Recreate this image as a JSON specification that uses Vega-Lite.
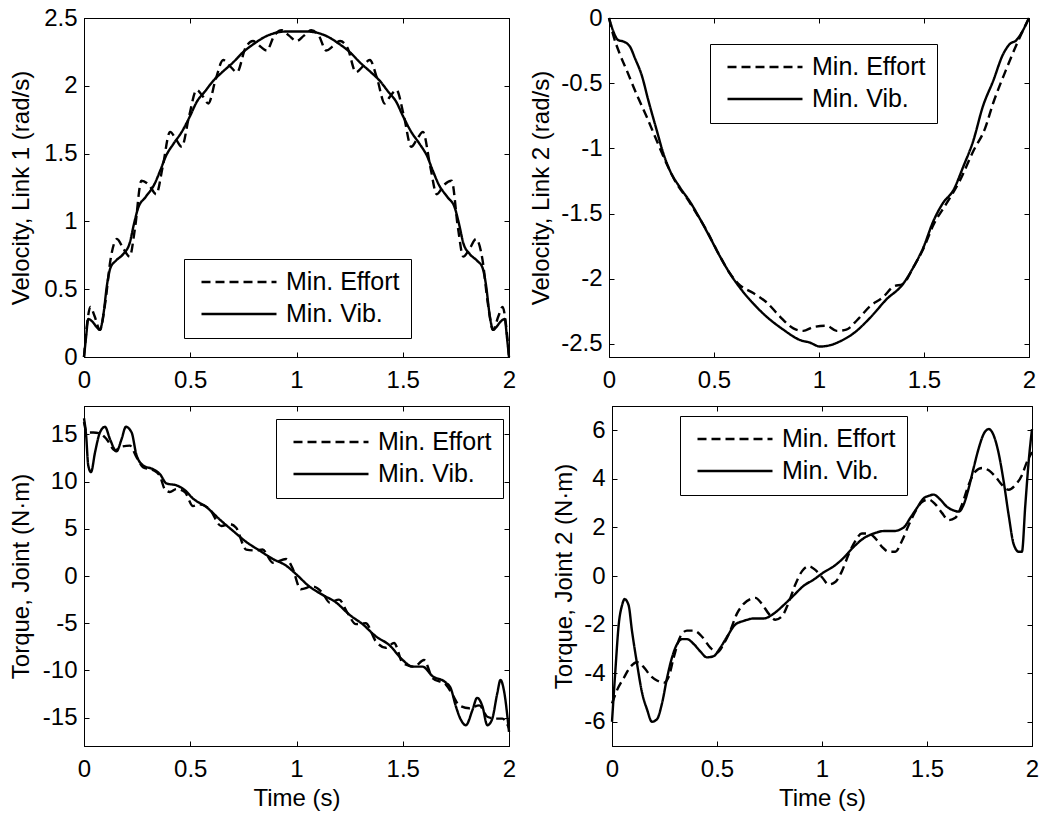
{
  "$schema": "https://vega.github.io/schema/vega-lite/v6.json",
  "padding": {"left": 8, "top": 5, "right": 5, "bottom": 5},
  "background": "white",
  "config": {
    "font": "Liberation Sans",
    "view": {"stroke": "black", "strokeWidth": 1},
    "axis": {
      "labelFont": "Liberation Sans", "labelFontSize": 24, "labelColor": "black", "labelFlush": false,
      "titleFont": "Liberation Sans", "titleFontSize": 24, "titleFontWeight": "normal", "titleColor": "black",
      "domainColor": "black", "domainWidth": 1, "tickColor": "black", "tickWidth": 1, "tickSize": -5, "grid": false
    },
    "axisX": {"labelPadding": 16, "minExtent": 35, "maxExtent": 35, "titlePadding": 5},
    "axisY": {"labelPadding": 12, "titlePadding": 7},
    "legend": {
      "labelFont": "Liberation Sans", "labelFontSize": 25, "labelColor": "black",
      "strokeColor": "black", "fillColor": "white", "padding": 11,
      "symbolType": "stroke", "symbolSize": 5625, "symbolStrokeWidth": 2.4, "symbolStrokeColor": "black",
      "symbolOffset": 5, "labelOffset": 8, "rowPadding": 7, "clipHeight": 24
    },
    "line": {"color": "black", "strokeWidth": 2.4, "interpolate": "monotone"}
  },
  "datasets": {
    "p1": [
      {"t":0,"v":0,"s":"Min. Effort"},{"t":0.015,"v":0.25,"s":"Min. Effort"},{"t":0.03,"v":0.37,"s":"Min. Effort"},{"t":0.05,"v":0.30,"s":"Min. Effort"},{"t":0.075,"v":0.20,"s":"Min. Effort"},{"t":0.1,"v":0.40,"s":"Min. Effort"},{"t":0.125,"v":0.72,"s":"Min. Effort"},{"t":0.155,"v":0.87,"s":"Min. Effort"},{"t":0.185,"v":0.80,"s":"Min. Effort"},{"t":0.215,"v":0.74,"s":"Min. Effort"},{"t":0.24,"v":0.95,"s":"Min. Effort"},{"t":0.27,"v":1.30,"s":"Min. Effort"},{"t":0.305,"v":1.27,"s":"Min. Effort"},{"t":0.34,"v":1.20,"s":"Min. Effort"},{"t":0.37,"v":1.40,"s":"Min. Effort"},{"t":0.405,"v":1.66,"s":"Min. Effort"},{"t":0.435,"v":1.60,"s":"Min. Effort"},{"t":0.46,"v":1.55,"s":"Min. Effort"},{"t":0.495,"v":1.78,"s":"Min. Effort"},{"t":0.53,"v":1.97,"s":"Min. Effort"},{"t":0.56,"v":1.92,"s":"Min. Effort"},{"t":0.585,"v":1.87,"s":"Min. Effort"},{"t":0.62,"v":2.05,"s":"Min. Effort"},{"t":0.655,"v":2.19,"s":"Min. Effort"},{"t":0.69,"v":2.14,"s":"Min. Effort"},{"t":0.72,"v":2.10,"s":"Min. Effort"},{"t":0.76,"v":2.28,"s":"Min. Effort"},{"t":0.795,"v":2.33,"s":"Min. Effort"},{"t":0.83,"v":2.29,"s":"Min. Effort"},{"t":0.86,"v":2.26,"s":"Min. Effort"},{"t":0.895,"v":2.37,"s":"Min. Effort"},{"t":0.93,"v":2.41,"s":"Min. Effort"},{"t":0.965,"v":2.37,"s":"Min. Effort"},{"t":1.0,"v":2.33,"s":"Min. Effort"},{"t":1.035,"v":2.37,"s":"Min. Effort"},{"t":1.07,"v":2.41,"s":"Min. Effort"},{"t":1.105,"v":2.37,"s":"Min. Effort"},{"t":1.14,"v":2.26,"s":"Min. Effort"},{"t":1.17,"v":2.29,"s":"Min. Effort"},{"t":1.205,"v":2.33,"s":"Min. Effort"},{"t":1.24,"v":2.28,"s":"Min. Effort"},{"t":1.28,"v":2.10,"s":"Min. Effort"},{"t":1.31,"v":2.14,"s":"Min. Effort"},{"t":1.345,"v":2.19,"s":"Min. Effort"},{"t":1.38,"v":2.05,"s":"Min. Effort"},{"t":1.415,"v":1.87,"s":"Min. Effort"},{"t":1.44,"v":1.92,"s":"Min. Effort"},{"t":1.47,"v":1.97,"s":"Min. Effort"},{"t":1.505,"v":1.78,"s":"Min. Effort"},{"t":1.54,"v":1.55,"s":"Min. Effort"},{"t":1.565,"v":1.60,"s":"Min. Effort"},{"t":1.595,"v":1.66,"s":"Min. Effort"},{"t":1.63,"v":1.40,"s":"Min. Effort"},{"t":1.66,"v":1.20,"s":"Min. Effort"},{"t":1.695,"v":1.27,"s":"Min. Effort"},{"t":1.73,"v":1.30,"s":"Min. Effort"},{"t":1.76,"v":0.95,"s":"Min. Effort"},{"t":1.785,"v":0.74,"s":"Min. Effort"},{"t":1.815,"v":0.80,"s":"Min. Effort"},{"t":1.845,"v":0.87,"s":"Min. Effort"},{"t":1.875,"v":0.72,"s":"Min. Effort"},{"t":1.9,"v":0.40,"s":"Min. Effort"},{"t":1.925,"v":0.20,"s":"Min. Effort"},{"t":1.95,"v":0.30,"s":"Min. Effort"},{"t":1.97,"v":0.37,"s":"Min. Effort"},{"t":1.985,"v":0.25,"s":"Min. Effort"},{"t":2.0,"v":0,"s":"Min. Effort"},
      {"t":0,"v":0,"s":"Min. Vib."},{"t":0.01,"v":0.15,"s":"Min. Vib."},{"t":0.02,"v":0.28,"s":"Min. Vib."},{"t":0.04,"v":0.26,"s":"Min. Vib."},{"t":0.06,"v":0.22,"s":"Min. Vib."},{"t":0.075,"v":0.20,"s":"Min. Vib."},{"t":0.09,"v":0.30,"s":"Min. Vib."},{"t":0.11,"v":0.55,"s":"Min. Vib."},{"t":0.125,"v":0.66,"s":"Min. Vib."},{"t":0.15,"v":0.71,"s":"Min. Vib."},{"t":0.185,"v":0.76,"s":"Min. Vib."},{"t":0.215,"v":0.84,"s":"Min. Vib."},{"t":0.235,"v":0.98,"s":"Min. Vib."},{"t":0.255,"v":1.10,"s":"Min. Vib."},{"t":0.29,"v":1.18,"s":"Min. Vib."},{"t":0.33,"v":1.27,"s":"Min. Vib."},{"t":0.36,"v":1.38,"s":"Min. Vib."},{"t":0.385,"v":1.48,"s":"Min. Vib."},{"t":0.42,"v":1.57,"s":"Min. Vib."},{"t":0.46,"v":1.66,"s":"Min. Vib."},{"t":0.5,"v":1.78,"s":"Min. Vib."},{"t":0.53,"v":1.88,"s":"Min. Vib."},{"t":0.57,"v":1.96,"s":"Min. Vib."},{"t":0.61,"v":2.04,"s":"Min. Vib."},{"t":0.65,"v":2.10,"s":"Min. Vib."},{"t":0.7,"v":2.17,"s":"Min. Vib."},{"t":0.75,"v":2.25,"s":"Min. Vib."},{"t":0.8,"v":2.31,"s":"Min. Vib."},{"t":0.85,"v":2.36,"s":"Min. Vib."},{"t":0.9,"v":2.39,"s":"Min. Vib."},{"t":0.95,"v":2.40,"s":"Min. Vib."},{"t":1.0,"v":2.40,"s":"Min. Vib."},{"t":1.05,"v":2.40,"s":"Min. Vib."},{"t":1.1,"v":2.39,"s":"Min. Vib."},{"t":1.15,"v":2.36,"s":"Min. Vib."},{"t":1.2,"v":2.31,"s":"Min. Vib."},{"t":1.25,"v":2.25,"s":"Min. Vib."},{"t":1.3,"v":2.17,"s":"Min. Vib."},{"t":1.35,"v":2.10,"s":"Min. Vib."},{"t":1.39,"v":2.04,"s":"Min. Vib."},{"t":1.43,"v":1.96,"s":"Min. Vib."},{"t":1.47,"v":1.88,"s":"Min. Vib."},{"t":1.5,"v":1.78,"s":"Min. Vib."},{"t":1.54,"v":1.66,"s":"Min. Vib."},{"t":1.58,"v":1.57,"s":"Min. Vib."},{"t":1.615,"v":1.48,"s":"Min. Vib."},{"t":1.64,"v":1.38,"s":"Min. Vib."},{"t":1.67,"v":1.27,"s":"Min. Vib."},{"t":1.71,"v":1.18,"s":"Min. Vib."},{"t":1.745,"v":1.10,"s":"Min. Vib."},{"t":1.765,"v":0.98,"s":"Min. Vib."},{"t":1.785,"v":0.84,"s":"Min. Vib."},{"t":1.815,"v":0.76,"s":"Min. Vib."},{"t":1.85,"v":0.71,"s":"Min. Vib."},{"t":1.875,"v":0.66,"s":"Min. Vib."},{"t":1.89,"v":0.55,"s":"Min. Vib."},{"t":1.91,"v":0.30,"s":"Min. Vib."},{"t":1.925,"v":0.20,"s":"Min. Vib."},{"t":1.94,"v":0.22,"s":"Min. Vib."},{"t":1.96,"v":0.26,"s":"Min. Vib."},{"t":1.98,"v":0.28,"s":"Min. Vib."},{"t":1.99,"v":0.15,"s":"Min. Vib."},{"t":2.0,"v":0,"s":"Min. Vib."}
    ],
    "p2": [
      {"t":0,"v":0,"s":"Min. Effort"},{"t":0.02,"v":-0.13,"s":"Min. Effort"},{"t":0.05,"v":-0.27,"s":"Min. Effort"},{"t":0.084,"v":-0.40,"s":"Min. Effort"},{"t":0.13,"v":-0.58,"s":"Min. Effort"},{"t":0.18,"v":-0.76,"s":"Min. Effort"},{"t":0.227,"v":-0.94,"s":"Min. Effort"},{"t":0.275,"v":-1.12,"s":"Min. Effort"},{"t":0.322,"v":-1.27,"s":"Min. Effort"},{"t":0.37,"v":-1.38,"s":"Min. Effort"},{"t":0.417,"v":-1.50,"s":"Min. Effort"},{"t":0.465,"v":-1.63,"s":"Min. Effort"},{"t":0.529,"v":-1.83,"s":"Min. Effort"},{"t":0.576,"v":-1.96,"s":"Min. Effort"},{"t":0.624,"v":-2.05,"s":"Min. Effort"},{"t":0.687,"v":-2.11,"s":"Min. Effort"},{"t":0.75,"v":-2.18,"s":"Min. Effort"},{"t":0.814,"v":-2.29,"s":"Min. Effort"},{"t":0.878,"v":-2.38,"s":"Min. Effort"},{"t":0.925,"v":-2.40,"s":"Min. Effort"},{"t":0.973,"v":-2.37,"s":"Min. Effort"},{"t":1.036,"v":-2.36,"s":"Min. Effort"},{"t":1.084,"v":-2.40,"s":"Min. Effort"},{"t":1.13,"v":-2.39,"s":"Min. Effort"},{"t":1.18,"v":-2.32,"s":"Min. Effort"},{"t":1.243,"v":-2.21,"s":"Min. Effort"},{"t":1.306,"v":-2.14,"s":"Min. Effort"},{"t":1.354,"v":-2.06,"s":"Min. Effort"},{"t":1.4,"v":-2.04,"s":"Min. Effort"},{"t":1.45,"v":-1.91,"s":"Min. Effort"},{"t":1.497,"v":-1.77,"s":"Min. Effort"},{"t":1.544,"v":-1.59,"s":"Min. Effort"},{"t":1.608,"v":-1.42,"s":"Min. Effort"},{"t":1.67,"v":-1.25,"s":"Min. Effort"},{"t":1.735,"v":-1.02,"s":"Min. Effort"},{"t":1.79,"v":-0.85,"s":"Min. Effort"},{"t":1.83,"v":-0.65,"s":"Min. Effort"},{"t":1.89,"v":-0.40,"s":"Min. Effort"},{"t":1.95,"v":-0.17,"s":"Min. Effort"},{"t":2.0,"v":0,"s":"Min. Effort"},
      {"t":0,"v":0,"s":"Min. Vib."},{"t":0.02,"v":-0.10,"s":"Min. Vib."},{"t":0.044,"v":-0.17,"s":"Min. Vib."},{"t":0.068,"v":-0.18,"s":"Min. Vib."},{"t":0.1,"v":-0.22,"s":"Min. Vib."},{"t":0.124,"v":-0.31,"s":"Min. Vib."},{"t":0.156,"v":-0.44,"s":"Min. Vib."},{"t":0.187,"v":-0.63,"s":"Min. Vib."},{"t":0.227,"v":-0.86,"s":"Min. Vib."},{"t":0.259,"v":-1.04,"s":"Min. Vib."},{"t":0.29,"v":-1.17,"s":"Min. Vib."},{"t":0.338,"v":-1.30,"s":"Min. Vib."},{"t":0.386,"v":-1.41,"s":"Min. Vib."},{"t":0.433,"v":-1.54,"s":"Min. Vib."},{"t":0.48,"v":-1.68,"s":"Min. Vib."},{"t":0.529,"v":-1.83,"s":"Min. Vib."},{"t":0.576,"v":-1.96,"s":"Min. Vib."},{"t":0.624,"v":-2.07,"s":"Min. Vib."},{"t":0.687,"v":-2.19,"s":"Min. Vib."},{"t":0.75,"v":-2.29,"s":"Min. Vib."},{"t":0.83,"v":-2.39,"s":"Min. Vib."},{"t":0.91,"v":-2.47,"s":"Min. Vib."},{"t":0.957,"v":-2.49,"s":"Min. Vib."},{"t":1.005,"v":-2.52,"s":"Min. Vib."},{"t":1.052,"v":-2.51,"s":"Min. Vib."},{"t":1.1,"v":-2.48,"s":"Min. Vib."},{"t":1.163,"v":-2.42,"s":"Min. Vib."},{"t":1.243,"v":-2.30,"s":"Min. Vib."},{"t":1.32,"v":-2.16,"s":"Min. Vib."},{"t":1.4,"v":-2.04,"s":"Min. Vib."},{"t":1.45,"v":-1.91,"s":"Min. Vib."},{"t":1.497,"v":-1.76,"s":"Min. Vib."},{"t":1.544,"v":-1.56,"s":"Min. Vib."},{"t":1.59,"v":-1.42,"s":"Min. Vib."},{"t":1.64,"v":-1.32,"s":"Min. Vib."},{"t":1.687,"v":-1.14,"s":"Min. Vib."},{"t":1.735,"v":-0.94,"s":"Min. Vib."},{"t":1.78,"v":-0.68,"s":"Min. Vib."},{"t":1.83,"v":-0.48,"s":"Min. Vib."},{"t":1.876,"v":-0.28,"s":"Min. Vib."},{"t":1.908,"v":-0.20,"s":"Min. Vib."},{"t":1.94,"v":-0.17,"s":"Min. Vib."},{"t":1.962,"v":-0.12,"s":"Min. Vib."},{"t":2.0,"v":0,"s":"Min. Vib."}
    ],
    "p3": [
      {"t":0,"v":16.3,"s":"Min. Effort"},{"t":0.013,"v":15.2,"s":"Min. Effort"},{"t":0.044,"v":15.2,"s":"Min. Effort"},{"t":0.075,"v":15.1,"s":"Min. Effort"},{"t":0.106,"v":14.5,"s":"Min. Effort"},{"t":0.146,"v":13.3,"s":"Min. Effort"},{"t":0.177,"v":13.7,"s":"Min. Effort"},{"t":0.216,"v":13.8,"s":"Min. Effort"},{"t":0.247,"v":12.6,"s":"Min. Effort"},{"t":0.279,"v":11.5,"s":"Min. Effort"},{"t":0.326,"v":11.2,"s":"Min. Effort"},{"t":0.357,"v":10.6,"s":"Min. Effort"},{"t":0.38,"v":9.2,"s":"Min. Effort"},{"t":0.404,"v":8.9,"s":"Min. Effort"},{"t":0.435,"v":9.2,"s":"Min. Effort"},{"t":0.474,"v":8.9,"s":"Min. Effort"},{"t":0.513,"v":7.4,"s":"Min. Effort"},{"t":0.544,"v":7.6,"s":"Min. Effort"},{"t":0.59,"v":7.1,"s":"Min. Effort"},{"t":0.646,"v":5.3,"s":"Min. Effort"},{"t":0.685,"v":5.5,"s":"Min. Effort"},{"t":0.716,"v":5.1,"s":"Min. Effort"},{"t":0.763,"v":2.8,"s":"Min. Effort"},{"t":0.81,"v":2.7,"s":"Min. Effort"},{"t":0.84,"v":2.8,"s":"Min. Effort"},{"t":0.889,"v":1.4,"s":"Min. Effort"},{"t":0.951,"v":1.8,"s":"Min. Effort"},{"t":0.98,"v":0.9,"s":"Min. Effort"},{"t":1.02,"v":-1.4,"s":"Min. Effort"},{"t":1.075,"v":-1.1,"s":"Min. Effort"},{"t":1.123,"v":-1.8,"s":"Min. Effort"},{"t":1.155,"v":-2.8,"s":"Min. Effort"},{"t":1.2,"v":-2.5,"s":"Min. Effort"},{"t":1.24,"v":-3.9,"s":"Min. Effort"},{"t":1.28,"v":-5.1,"s":"Min. Effort"},{"t":1.326,"v":-5.0,"s":"Min. Effort"},{"t":1.373,"v":-6.9,"s":"Min. Effort"},{"t":1.42,"v":-7.6,"s":"Min. Effort"},{"t":1.459,"v":-7.1,"s":"Min. Effort"},{"t":1.5,"v":-9.2,"s":"Min. Effort"},{"t":1.554,"v":-9.6,"s":"Min. Effort"},{"t":1.6,"v":-8.9,"s":"Min. Effort"},{"t":1.64,"v":-10.8,"s":"Min. Effort"},{"t":1.703,"v":-11.5,"s":"Min. Effort"},{"t":1.735,"v":-12.6,"s":"Min. Effort"},{"t":1.766,"v":-13.7,"s":"Min. Effort"},{"t":1.813,"v":-14.0,"s":"Min. Effort"},{"t":1.86,"v":-13.7,"s":"Min. Effort"},{"t":1.898,"v":-14.9,"s":"Min. Effort"},{"t":1.937,"v":-15.1,"s":"Min. Effort"},{"t":1.969,"v":-15.1,"s":"Min. Effort"},{"t":2.0,"v":-16.1,"s":"Min. Effort"},
      {"t":0,"v":16.7,"s":"Min. Vib."},{"t":0.01,"v":14.9,"s":"Min. Vib."},{"t":0.02,"v":11.7,"s":"Min. Vib."},{"t":0.033,"v":11.0,"s":"Min. Vib."},{"t":0.052,"v":13.1,"s":"Min. Vib."},{"t":0.075,"v":15.2,"s":"Min. Vib."},{"t":0.099,"v":15.8,"s":"Min. Vib."},{"t":0.122,"v":14.5,"s":"Min. Vib."},{"t":0.153,"v":13.2,"s":"Min. Vib."},{"t":0.177,"v":14.5,"s":"Min. Vib."},{"t":0.197,"v":15.8,"s":"Min. Vib."},{"t":0.224,"v":15.2,"s":"Min. Vib."},{"t":0.247,"v":12.8,"s":"Min. Vib."},{"t":0.279,"v":11.7,"s":"Min. Vib."},{"t":0.326,"v":11.3,"s":"Min. Vib."},{"t":0.357,"v":10.8,"s":"Min. Vib."},{"t":0.388,"v":9.8,"s":"Min. Vib."},{"t":0.435,"v":9.6,"s":"Min. Vib."},{"t":0.474,"v":9.1,"s":"Min. Vib."},{"t":0.513,"v":8.2,"s":"Min. Vib."},{"t":0.576,"v":7.3,"s":"Min. Vib."},{"t":0.638,"v":6.0,"s":"Min. Vib."},{"t":0.7,"v":4.8,"s":"Min. Vib."},{"t":0.764,"v":3.6,"s":"Min. Vib."},{"t":0.826,"v":2.7,"s":"Min. Vib."},{"t":0.889,"v":1.8,"s":"Min. Vib."},{"t":0.951,"v":1.1,"s":"Min. Vib."},{"t":0.998,"v":0.2,"s":"Min. Vib."},{"t":1.06,"v":-1.1,"s":"Min. Vib."},{"t":1.123,"v":-2.0,"s":"Min. Vib."},{"t":1.186,"v":-2.8,"s":"Min. Vib."},{"t":1.249,"v":-4.1,"s":"Min. Vib."},{"t":1.311,"v":-5.1,"s":"Min. Vib."},{"t":1.374,"v":-6.4,"s":"Min. Vib."},{"t":1.436,"v":-7.3,"s":"Min. Vib."},{"t":1.5,"v":-8.9,"s":"Min. Vib."},{"t":1.546,"v":-9.6,"s":"Min. Vib."},{"t":1.593,"v":-9.6,"s":"Min. Vib."},{"t":1.64,"v":-10.6,"s":"Min. Vib."},{"t":1.703,"v":-11.3,"s":"Min. Vib."},{"t":1.726,"v":-11.9,"s":"Min. Vib."},{"t":1.75,"v":-13.8,"s":"Min. Vib."},{"t":1.773,"v":-15.2,"s":"Min. Vib."},{"t":1.797,"v":-15.8,"s":"Min. Vib."},{"t":1.828,"v":-14.2,"s":"Min. Vib."},{"t":1.85,"v":-12.9,"s":"Min. Vib."},{"t":1.875,"v":-13.8,"s":"Min. Vib."},{"t":1.898,"v":-15.8,"s":"Min. Vib."},{"t":1.92,"v":-15.2,"s":"Min. Vib."},{"t":1.945,"v":-12.4,"s":"Min. Vib."},{"t":1.96,"v":-11.0,"s":"Min. Vib."},{"t":1.976,"v":-12.1,"s":"Min. Vib."},{"t":2.0,"v":-16.5,"s":"Min. Vib."}
    ],
    "p4": [
      {"t":0,"v":-5.25,"s":"Min. Effort"},{"t":0.024,"v":-4.7,"s":"Min. Effort"},{"t":0.056,"v":-4.2,"s":"Min. Effort"},{"t":0.087,"v":-3.75,"s":"Min. Effort"},{"t":0.119,"v":-3.55,"s":"Min. Effort"},{"t":0.151,"v":-3.75,"s":"Min. Effort"},{"t":0.183,"v":-4.1,"s":"Min. Effort"},{"t":0.214,"v":-4.3,"s":"Min. Effort"},{"t":0.246,"v":-4.4,"s":"Min. Effort"},{"t":0.27,"v":-4.15,"s":"Min. Effort"},{"t":0.294,"v":-3.35,"s":"Min. Effort"},{"t":0.325,"v":-2.5,"s":"Min. Effort"},{"t":0.357,"v":-2.25,"s":"Min. Effort"},{"t":0.389,"v":-2.25,"s":"Min. Effort"},{"t":0.429,"v":-2.5,"s":"Min. Effort"},{"t":0.468,"v":-2.95,"s":"Min. Effort"},{"t":0.5,"v":-3.15,"s":"Min. Effort"},{"t":0.532,"v":-2.8,"s":"Min. Effort"},{"t":0.563,"v":-2.25,"s":"Min. Effort"},{"t":0.595,"v":-1.55,"s":"Min. Effort"},{"t":0.627,"v":-1.15,"s":"Min. Effort"},{"t":0.659,"v":-0.95,"s":"Min. Effort"},{"t":0.683,"v":-0.9,"s":"Min. Effort"},{"t":0.714,"v":-1.15,"s":"Min. Effort"},{"t":0.746,"v":-1.55,"s":"Min. Effort"},{"t":0.778,"v":-1.8,"s":"Min. Effort"},{"t":0.81,"v":-1.65,"s":"Min. Effort"},{"t":0.841,"v":-1.1,"s":"Min. Effort"},{"t":0.873,"v":-0.35,"s":"Min. Effort"},{"t":0.905,"v":0.2,"s":"Min. Effort"},{"t":0.937,"v":0.4,"s":"Min. Effort"},{"t":0.968,"v":0.25,"s":"Min. Effort"},{"t":1.0,"v":-0.05,"s":"Min. Effort"},{"t":1.032,"v":-0.35,"s":"Min. Effort"},{"t":1.063,"v":-0.25,"s":"Min. Effort"},{"t":1.095,"v":0.2,"s":"Min. Effort"},{"t":1.127,"v":0.9,"s":"Min. Effort"},{"t":1.159,"v":1.45,"s":"Min. Effort"},{"t":1.19,"v":1.75,"s":"Min. Effort"},{"t":1.222,"v":1.75,"s":"Min. Effort"},{"t":1.254,"v":1.55,"s":"Min. Effort"},{"t":1.286,"v":1.2,"s":"Min. Effort"},{"t":1.317,"v":1.0,"s":"Min. Effort"},{"t":1.349,"v":1.0,"s":"Min. Effort"},{"t":1.381,"v":1.45,"s":"Min. Effort"},{"t":1.413,"v":2.1,"s":"Min. Effort"},{"t":1.444,"v":2.65,"s":"Min. Effort"},{"t":1.476,"v":3.05,"s":"Min. Effort"},{"t":1.508,"v":3.15,"s":"Min. Effort"},{"t":1.54,"v":2.95,"s":"Min. Effort"},{"t":1.571,"v":2.6,"s":"Min. Effort"},{"t":1.603,"v":2.3,"s":"Min. Effort"},{"t":1.635,"v":2.4,"s":"Min. Effort"},{"t":1.667,"v":2.95,"s":"Min. Effort"},{"t":1.698,"v":3.75,"s":"Min. Effort"},{"t":1.73,"v":4.3,"s":"Min. Effort"},{"t":1.762,"v":4.45,"s":"Min. Effort"},{"t":1.794,"v":4.35,"s":"Min. Effort"},{"t":1.825,"v":4.1,"s":"Min. Effort"},{"t":1.857,"v":3.75,"s":"Min. Effort"},{"t":1.889,"v":3.55,"s":"Min. Effort"},{"t":1.921,"v":3.75,"s":"Min. Effort"},{"t":1.952,"v":4.15,"s":"Min. Effort"},{"t":1.976,"v":4.7,"s":"Min. Effort"},{"t":2.0,"v":5.1,"s":"Min. Effort"},
      {"t":0,"v":-6.0,"s":"Min. Vib."},{"t":0.016,"v":-3.9,"s":"Min. Vib."},{"t":0.032,"v":-2.0,"s":"Min. Vib."},{"t":0.048,"v":-1.2,"s":"Min. Vib."},{"t":0.06,"v":-0.95,"s":"Min. Vib."},{"t":0.079,"v":-1.2,"s":"Min. Vib."},{"t":0.095,"v":-2.25,"s":"Min. Vib."},{"t":0.119,"v":-3.6,"s":"Min. Vib."},{"t":0.143,"v":-4.8,"s":"Min. Vib."},{"t":0.167,"v":-5.5,"s":"Min. Vib."},{"t":0.19,"v":-6.0,"s":"Min. Vib."},{"t":0.214,"v":-5.9,"s":"Min. Vib."},{"t":0.238,"v":-5.25,"s":"Min. Vib."},{"t":0.262,"v":-4.2,"s":"Min. Vib."},{"t":0.286,"v":-3.35,"s":"Min. Vib."},{"t":0.31,"v":-2.8,"s":"Min. Vib."},{"t":0.333,"v":-2.6,"s":"Min. Vib."},{"t":0.357,"v":-2.6,"s":"Min. Vib."},{"t":0.389,"v":-2.8,"s":"Min. Vib."},{"t":0.42,"v":-3.1,"s":"Min. Vib."},{"t":0.452,"v":-3.35,"s":"Min. Vib."},{"t":0.484,"v":-3.3,"s":"Min. Vib."},{"t":0.516,"v":-2.95,"s":"Min. Vib."},{"t":0.548,"v":-2.5,"s":"Min. Vib."},{"t":0.587,"v":-2.0,"s":"Min. Vib."},{"t":0.627,"v":-1.85,"s":"Min. Vib."},{"t":0.675,"v":-1.75,"s":"Min. Vib."},{"t":0.722,"v":-1.75,"s":"Min. Vib."},{"t":0.77,"v":-1.55,"s":"Min. Vib."},{"t":0.817,"v":-1.2,"s":"Min. Vib."},{"t":0.865,"v":-0.8,"s":"Min. Vib."},{"t":0.913,"v":-0.4,"s":"Min. Vib."},{"t":0.96,"v":-0.15,"s":"Min. Vib."},{"t":1.008,"v":0.15,"s":"Min. Vib."},{"t":1.056,"v":0.4,"s":"Min. Vib."},{"t":1.103,"v":0.75,"s":"Min. Vib."},{"t":1.151,"v":1.2,"s":"Min. Vib."},{"t":1.198,"v":1.55,"s":"Min. Vib."},{"t":1.246,"v":1.75,"s":"Min. Vib."},{"t":1.294,"v":1.85,"s":"Min. Vib."},{"t":1.341,"v":1.85,"s":"Min. Vib."},{"t":1.389,"v":2.0,"s":"Min. Vib."},{"t":1.421,"v":2.4,"s":"Min. Vib."},{"t":1.452,"v":2.8,"s":"Min. Vib."},{"t":1.484,"v":3.2,"s":"Min. Vib."},{"t":1.508,"v":3.3,"s":"Min. Vib."},{"t":1.532,"v":3.35,"s":"Min. Vib."},{"t":1.563,"v":3.15,"s":"Min. Vib."},{"t":1.595,"v":2.85,"s":"Min. Vib."},{"t":1.627,"v":2.7,"s":"Min. Vib."},{"t":1.651,"v":2.65,"s":"Min. Vib."},{"t":1.675,"v":2.95,"s":"Min. Vib."},{"t":1.698,"v":3.6,"s":"Min. Vib."},{"t":1.722,"v":4.45,"s":"Min. Vib."},{"t":1.746,"v":5.25,"s":"Min. Vib."},{"t":1.77,"v":5.85,"s":"Min. Vib."},{"t":1.794,"v":6.05,"s":"Min. Vib."},{"t":1.817,"v":5.8,"s":"Min. Vib."},{"t":1.84,"v":5.1,"s":"Min. Vib."},{"t":1.865,"v":3.9,"s":"Min. Vib."},{"t":1.889,"v":2.5,"s":"Min. Vib."},{"t":1.913,"v":1.3,"s":"Min. Vib."},{"t":1.937,"v":1.0,"s":"Min. Vib."},{"t":1.952,"v":1.0,"s":"Min. Vib."},{"t":1.968,"v":2.9,"s":"Min. Vib."},{"t":1.984,"v":4.7,"s":"Min. Vib."},{"t":2.0,"v":6.05,"s":"Min. Vib."}
    ]
  },
  "resolve": {"legend": {"strokeDash": "independent"}, "scale": {"strokeDash": "independent"}},
  "spacing": 12,
  "vconcat": [
    {
      "spacing": 11,
      "resolve": {"legend": {"strokeDash": "independent"}, "scale": {"strokeDash": "independent"}},
      "hconcat": [
        {
          "width": 425, "height": 339,
          "data": {"name": "p1"},
          "resolve": {"axis": {"x": "independent", "y": "independent"}},
          "layer": [
            {
              "mark": {"type": "line"},
              "encoding": {
                "x": {"field": "t", "type": "quantitative", "scale": {"domain": [0, 2], "nice": false}, "axis": {"values": [0, 0.5, 1, 1.5, 2], "labelExpr": "'' + datum.value", "title": null}},
                "y": {"field": "v", "type": "quantitative", "scale": {"domain": [0, 2.5], "nice": false, "zero": false}, "axis": {"values": [0, 0.5, 1, 1.5, 2, 2.5], "labelExpr": "'' + datum.value", "title": "Velocity, Link 1 (rad/s)", "minExtent": 44, "maxExtent": 44}},
                "strokeDash": {"field": "s", "type": "nominal", "scale": {"domain": ["Min. Effort", "Min. Vib."], "range": [[9, 5], [1, 0]]}, "legend": {"orient": "none", "legendX": 100, "legendY": 241, "title": null}}
              }
            },
            {
              "mark": {"type": "line", "opacity": 0},
              "encoding": {
                "x": {"field": "t", "type": "quantitative", "scale": {"domain": [0, 2], "nice": false}, "axis": {"orient": "top", "values": [0, 0.5, 1, 1.5, 2], "labels": false, "title": null, "minExtent": 0, "maxExtent": 0}},
                "y": {"field": "v", "type": "quantitative", "scale": {"domain": [0, 2.5], "nice": false, "zero": false}, "axis": {"orient": "right", "values": [0, 0.5, 1, 1.5, 2, 2.5], "labels": false, "title": null, "minExtent": 0, "maxExtent": 0}}
              }
            }
          ]
        },
        {
          "width": 420, "height": 339,
          "data": {"name": "p2"},
          "resolve": {"axis": {"x": "independent", "y": "independent"}},
          "layer": [
            {
              "mark": {"type": "line"},
              "encoding": {
                "x": {"field": "t", "type": "quantitative", "scale": {"domain": [0, 2], "nice": false}, "axis": {"values": [0, 0.5, 1, 1.5, 2], "labelExpr": "'' + datum.value", "title": null}},
                "y": {"field": "v", "type": "quantitative", "scale": {"domain": [-2.6, 0], "nice": false, "zero": false}, "axis": {"values": [-2.5, -2, -1.5, -1, -0.5, 0], "labelExpr": "'' + datum.value", "title": "Velocity, Link 2 (rad/s)", "minExtent": 49, "maxExtent": 49}},
                "strokeDash": {"field": "s", "type": "nominal", "scale": {"domain": ["Min. Effort", "Min. Vib."], "range": [[9, 5], [1, 0]]}, "legend": {"orient": "none", "legendX": 101, "legendY": 26, "title": null}}
              }
            },
            {
              "mark": {"type": "line", "opacity": 0},
              "encoding": {
                "x": {"field": "t", "type": "quantitative", "scale": {"domain": [0, 2], "nice": false}, "axis": {"orient": "top", "values": [0, 0.5, 1, 1.5, 2], "labels": false, "title": null, "minExtent": 0, "maxExtent": 0}},
                "y": {"field": "v", "type": "quantitative", "scale": {"domain": [-2.6, 0], "nice": false, "zero": false}, "axis": {"orient": "right", "values": [-2.5, -2, -1.5, -1, -0.5, 0], "labels": false, "title": null, "minExtent": 0, "maxExtent": 0}}
              }
            }
          ]
        }
      ]
    },
    {
      "spacing": 34,
      "resolve": {"legend": {"strokeDash": "independent"}, "scale": {"strokeDash": "independent"}},
      "hconcat": [
        {
          "width": 425, "height": 340,
          "data": {"name": "p3"},
          "resolve": {"axis": {"x": "independent", "y": "independent"}},
          "layer": [
            {
              "mark": {"type": "line"},
              "encoding": {
                "x": {"field": "t", "type": "quantitative", "scale": {"domain": [0, 2], "nice": false}, "axis": {"values": [0, 0.5, 1, 1.5, 2], "labelExpr": "'' + datum.value", "title": "Time (s)"}},
                "y": {"field": "v", "type": "quantitative", "scale": {"domain": [-18, 18], "nice": false, "zero": false}, "axis": {"values": [-15, -10, -5, 0, 5, 10, 15], "labelExpr": "'' + datum.value", "title": "Torque, Joint (N·m)", "minExtent": 44, "maxExtent": 44}},
                "strokeDash": {"field": "s", "type": "nominal", "scale": {"domain": ["Min. Effort", "Min. Vib."], "range": [[9, 5], [1, 0]]}, "legend": {"orient": "none", "legendX": 192, "legendY": 13, "title": null}}
              }
            },
            {
              "mark": {"type": "line", "opacity": 0},
              "encoding": {
                "x": {"field": "t", "type": "quantitative", "scale": {"domain": [0, 2], "nice": false}, "axis": {"orient": "top", "values": [0, 0.5, 1, 1.5, 2], "labels": false, "title": null, "minExtent": 0, "maxExtent": 0}},
                "y": {"field": "v", "type": "quantitative", "scale": {"domain": [-18, 18], "nice": false, "zero": false}, "axis": {"orient": "right", "values": [-15, -10, -5, 0, 5, 10, 15], "labels": false, "title": null, "minExtent": 0, "maxExtent": 0}}
              }
            }
          ]
        },
        {
          "width": 420, "height": 340,
          "data": {"name": "p4"},
          "resolve": {"axis": {"x": "independent", "y": "independent"}},
          "layer": [
            {
              "mark": {"type": "line"},
              "encoding": {
                "x": {"field": "t", "type": "quantitative", "scale": {"domain": [0, 2], "nice": false}, "axis": {"values": [0, 0.5, 1, 1.5, 2], "labelExpr": "'' + datum.value", "title": "Time (s)"}},
                "y": {"field": "v", "type": "quantitative", "scale": {"domain": [-7, 7], "nice": false, "zero": false}, "axis": {"values": [-6, -4, -2, 0, 2, 4, 6], "labelExpr": "'' + datum.value", "title": "Torque, Joint 2 (N·m)", "minExtent": 29, "maxExtent": 29}},
                "strokeDash": {"field": "s", "type": "nominal", "scale": {"domain": ["Min. Effort", "Min. Vib."], "range": [[9, 5], [1, 0]]}, "legend": {"orient": "none", "legendX": 68, "legendY": 10, "title": null}}
              }
            },
            {
              "mark": {"type": "line", "opacity": 0},
              "encoding": {
                "x": {"field": "t", "type": "quantitative", "scale": {"domain": [0, 2], "nice": false}, "axis": {"orient": "top", "values": [0, 0.5, 1, 1.5, 2], "labels": false, "title": null, "minExtent": 0, "maxExtent": 0}},
                "y": {"field": "v", "type": "quantitative", "scale": {"domain": [-7, 7], "nice": false, "zero": false}, "axis": {"orient": "right", "values": [-6, -4, -2, 0, 2, 4, 6], "labels": false, "title": null, "minExtent": 0, "maxExtent": 0}}
              }
            }
          ]
        }
      ]
    }
  ]
}
